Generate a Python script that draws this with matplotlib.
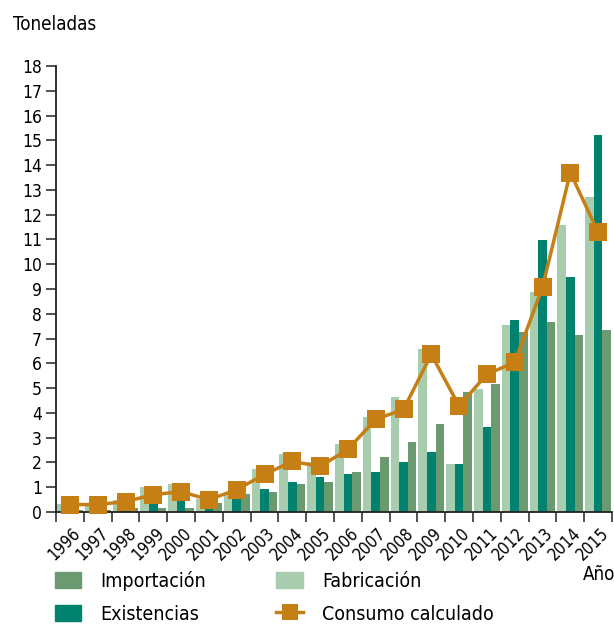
import numpy as np
import matplotlib
matplotlib.use("Agg")
import matplotlib.pyplot as plt
from matplotlib.lines import Line2D
from matplotlib.patches import Patch

plt.rcParams['font.family'] = ['DejaVu Sans']
plt.rcParams['font.stretch'] = 'condensed'

years = [str(y) for y in range(1996, 2016)]
fabricacion = [0.31, 0.38, 0.50, 0.99, 1.11, 0.52, 0.80, 1.74, 2.34, 2.02,
               2.74, 3.83, 4.64, 6.58, 1.94, 4.96, 7.55, 8.88, 11.58, 12.70]
existencias = [0.03, 0.03, 0.05, 0.33, 0.46, 0.16, 0.56, 0.93, 1.21, 1.41,
               1.53, 1.61, 2.02, 2.42, 1.94, 3.43, 7.75, 10.98, 9.48, 15.20]
importacion = [0.10, 0.10, 0.18, 0.18, 0.18, 0.38, 0.71, 0.81, 1.13, 1.21,
               1.61, 2.22, 2.82, 3.55, 4.84, 5.17, 7.26, 7.67, 7.14, 7.34]
consumo = [0.30, 0.30, 0.42, 0.70, 0.82, 0.50, 0.90, 1.52, 2.04, 1.84,
           2.53, 3.74, 4.14, 6.36, 4.28, 5.56, 6.04, 9.07, 13.70, 11.29]

c_imp = '#6b9a70'
c_fab = '#a8cdae'
c_exi = '#00826f'
c_con = '#c57f14'

fig = plt.figure(figsize=(6.14, 6.26), dpi=100)
ax = fig.add_axes([56 / 614, 114 / 626, 556 / 614, 446 / 626])

x = np.arange(len(years))
w = 0.31
ax.bar(x - w, fabricacion, w, color=c_fab, zorder=2)
ax.bar(x, existencias, w, color=c_exi, zorder=2)
ax.bar(x + w, importacion, w, color=c_imp, zorder=2)
ax.plot(x, consumo, color=c_con, lw=2.5, marker='s', markersize=12.5,
        markeredgewidth=0, zorder=3, clip_on=False)

ax.set_xlim(-0.5, len(years) - 0.5)
ax.set_ylim(0, 18)
ax.set_yticks(range(0, 19))
# labels sit a bit left of the group centre so 2015 stays inside the picture
ax.set_xticks(x - 0.2)
ax.set_xticklabels(years, rotation=45, fontsize=12)
ax.set_xticks(np.arange(-0.5, len(years)), minor=True)
ax.tick_params(axis='x', which='major', length=0, pad=9)
ax.tick_params(axis='x', which='minor', length=7, width=1.2, color='#333333')
ax.tick_params(axis='y', length=7, width=1.2, color='#333333', labelsize=12.5, pad=3)
for s in ['top', 'right']:
    ax.spines[s].set_visible(False)
for s in ['left', 'bottom']:
    ax.spines[s].set_linewidth(1.3)
    ax.spines[s].set_color('#222222')

fig.text(13 / 614, 1 - 25 / 626, 'Toneladas', fontsize=13.5, va='center', ha='left')
fig.text(583 / 614, 1 - 574 / 626, 'Año', fontsize=13.5, va='center', ha='left')

handles = [
    Patch(color=c_imp, label='Importación'),
    Patch(color=c_exi, label='Existencias'),
    Patch(color=c_fab, label='Fabricación'),
    Line2D([0], [0], color=c_con, lw=2.5, marker='s', markersize=12,
           markeredgewidth=0, label='Consumo calculado'),
]
fig.legend(handles=handles, ncol=2, loc='upper left',
           bbox_to_anchor=(55 / 614, 1 - 571 / 626), frameon=False, fontsize=14,
           borderpad=0, borderaxespad=0,
           handlelength=1.35, handleheight=0.9, handletextpad=1.0,
           columnspacing=3.6, labelspacing=0.7)

fig.savefig('out.png', dpi=100)
